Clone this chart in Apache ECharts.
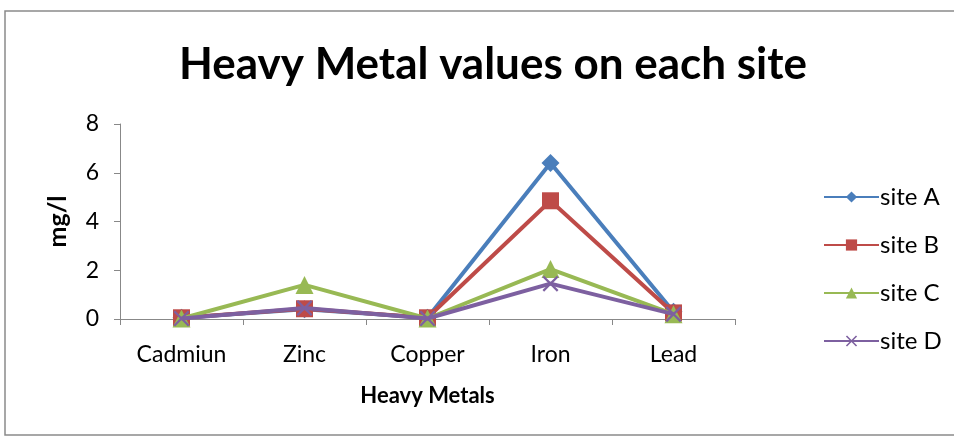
<!DOCTYPE html>
<html>
<head>
<meta charset="utf-8">
<script src="https://cdn.jsdelivr.net/npm/echarts@6/dist/echarts.min.js"></script>
<style>
html,body{margin:0;padding:0;background:#fff;}
#c{width:954px;height:438px;}
</style>
</head>
<body>
<div id="c"></div>
<script>
var categories = ['Cadmiun', 'Zinc', 'Copper', 'Iron', 'Lead'];
var siteA = [0.05, 0.4, 0.05, 6.4, 0.3];
var siteB = [0.05, 0.42, 0.05, 4.85, 0.25];
var siteC = [0.02, 1.4, 0.02, 2.05, 0.2];
var siteD = [0.02, 0.45, 0.02, 1.45, 0.2];
var seriesNames = ['site A', 'site B', 'site C', 'site D'];
var yTicks = [0, 2, 4, 6, 8];

var FONT = 'Lato';
var colors = ['#4A7EBB', '#BE4B48', '#98B954', '#7D60A0'];
var crossPath = 'path://M0,1L1,0L5,4L9,0L10,1L6,5L10,9L9,10L5,6L1,10L0,9L4,5Z';
var symbols = ['diamond', 'rect', 'triangle', crossPath];
var sizes = [18, 17, 18, 16];
var data = [siteA, siteB, siteC, siteD];

var chart = echarts.init(document.getElementById('c'), null, {renderer: 'canvas'});
chart.setOption({
  animation: false,
  backgroundColor: '#fff',
  graphic: [{
    type: 'rect',
    shape: {x: 5, y: 11, width: 960, height: 424},
    style: {fill: 'none', stroke: '#8a8a8a', lineWidth: 1.5},
    silent: true,
    z: 0
  }],
  title: {
    text: 'Heavy Metal values on each site',
    left: 488, top: 38, textAlign: 'center',
    textStyle: {fontFamily: FONT, fontSize: 44, fontWeight: 'bold', color: '#000'}
  },
  legend: {
    orient: 'vertical',
    left: 818, top: 180,
    itemWidth: 55, itemHeight: 14, itemGap: 24,
    textStyle: {fontFamily: FONT, fontSize: 24, color: '#000', padding: [0,0,0,-4]},
    data: seriesNames
  },
  grid: {left: 120, right: 219, top: 124, bottom: 119},
  xAxis: {
    type: 'category',
    data: categories,
    boundaryGap: true,
    name: 'Heavy Metals',
    nameLocation: 'middle',
    nameGap: 66,
    nameTextStyle: {fontFamily: FONT, fontSize: 22, fontWeight: 'bold', color: '#000'},
    axisLine: {lineStyle: {color: '#888', width: 1}},
    axisTick: {show: true, alignWithLabel: false, length: 6, lineStyle: {color: '#888'}},
    axisLabel: {fontFamily: FONT, fontSize: 23, color: '#000', margin: 24}
  },
  yAxis: {
    type: 'value',
    min: yTicks[0], max: yTicks[yTicks.length - 1], interval: 2,
    name: 'mg/l',
    nameLocation: 'middle',
    nameGap: 50,
    nameRotate: 90,
    nameTextStyle: {fontFamily: FONT, fontSize: 25, fontWeight: 'bold', color: '#000'},
    axisLine: {show: true, lineStyle: {color: '#888', width: 1}},
    axisTick: {show: true, length: 6, lineStyle: {color: '#888'}},
    splitLine: {show: false},
    axisLabel: {fontFamily: FONT, fontSize: 23, color: '#000', margin: 21}
  },
  series: seriesNames.map(function (n, i) {
    return {
      name: n,
      type: 'line',
      data: data[i],
      symbol: symbols[i],
      symbolSize: sizes[i],
      showAllSymbol: true,
      itemStyle: {color: colors[i]},
      lineStyle: {color: colors[i], width: 4},
      z: 2 + i
    };
  })
});
</script>
</body>
</html>
